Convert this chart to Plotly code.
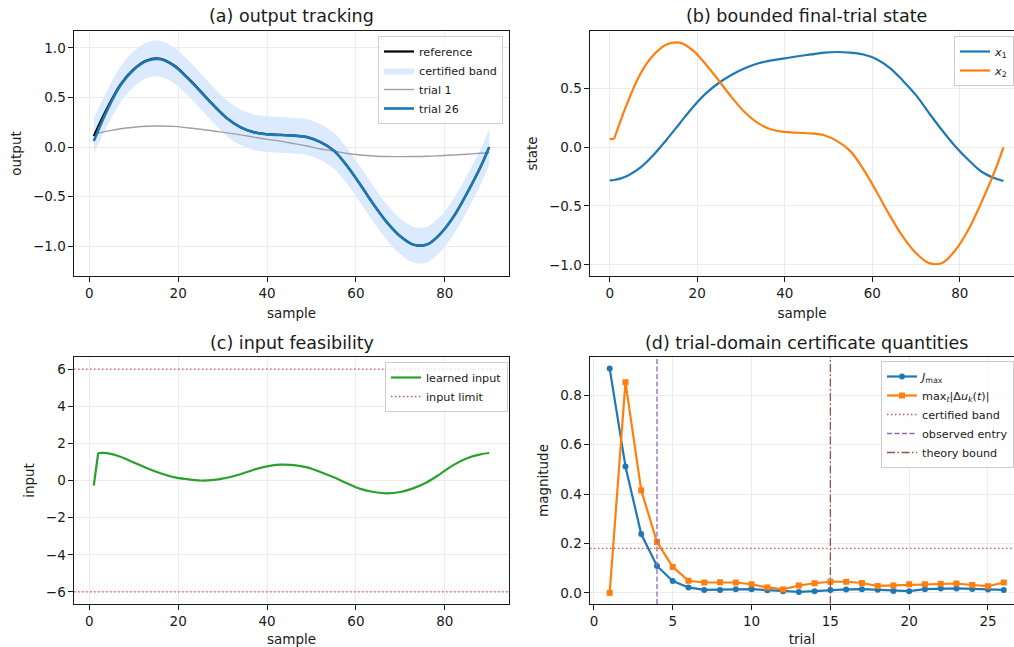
import plotly.graph_objects as go

# ---------------- data ----------------
SAMPLE = [1, 4, 7, 10, 13, 16, 19, 22, 25, 28, 31, 34, 37, 40, 43, 46, 49, 52, 55, 58,
          61, 64, 67, 70, 73, 76, 79, 82, 85, 88, 90]
REFERENCE = [0.11, 0.39, 0.63, 0.785, 0.875, 0.89, 0.825, 0.705, 0.565, 0.42, 0.29, 0.20,
             0.15, 0.13, 0.122, 0.115, 0.10, 0.05, -0.035, -0.19, -0.38, -0.58, -0.76,
             -0.90, -0.985, -0.983, -0.875, -0.70, -0.465, -0.205, 0.0]
TRIAL1 = [0.13, 0.16, 0.185, 0.20, 0.21, 0.212, 0.208, 0.195, 0.18, 0.162, 0.143, 0.123,
          0.10, 0.078, 0.06, 0.035, 0.01, -0.02, -0.04, -0.065, -0.08, -0.09, -0.095,
          -0.097, -0.096, -0.093, -0.087, -0.08, -0.072, -0.063, -0.058]
TRIAL26 = [0.06, 0.37, 0.62, 0.78, 0.87, 0.885, 0.82, 0.70, 0.56, 0.417, 0.29, 0.20,
           0.148, 0.128, 0.121, 0.115, 0.10, 0.05, -0.035, -0.19, -0.38, -0.58, -0.76,
           -0.90, -0.985, -0.983, -0.875, -0.70, -0.465, -0.205, 0.0]
BAND = 0.18  # certified band half-width

STATE_T = [0, 1, 4, 7, 10, 13, 16, 19, 22, 25, 28, 31, 34, 37, 40, 43, 46, 49, 52, 55,
           58, 61, 64, 67, 70, 73, 76, 79, 82, 85, 88, 90]
X1 = [-0.282, -0.28, -0.245, -0.175, -0.068, 0.062, 0.20, 0.338, 0.455, 0.545, 0.615,
      0.67, 0.71, 0.735, 0.752, 0.77, 0.785, 0.80, 0.806, 0.80, 0.785, 0.745, 0.672,
      0.563, 0.44, 0.287, 0.14, 0.005, -0.11, -0.21, -0.265, -0.288]
X2 = [0.068, 0.068, 0.37, 0.62, 0.78, 0.87, 0.885, 0.82, 0.70, 0.56, 0.417, 0.29, 0.20,
      0.148, 0.128, 0.121, 0.115, 0.10, 0.05, -0.035, -0.19, -0.38, -0.58, -0.76,
      -0.90, -0.985, -0.983, -0.875, -0.70, -0.465, -0.205, 0.0]

INPUT_T = [1, 2, 4, 7, 10, 13, 16, 19, 22, 25, 28, 31, 34, 37, 40, 43, 46, 49, 52, 55,
           58, 61, 64, 67, 70, 73, 76, 79, 82, 85, 88, 90]
INPUT = [-0.27, 1.48, 1.47, 1.28, 0.97, 0.66, 0.39, 0.18, 0.07, 0.0, 0.03, 0.15, 0.34,
         0.58, 0.76, 0.85, 0.83, 0.71, 0.46, 0.17, -0.15, -0.45, -0.62, -0.69, -0.62,
         -0.41, -0.09, 0.36, 0.84, 1.20, 1.41, 1.48]
U_LIMIT = 6

TRIALS = list(range(1, 27))
J_MAX = [0.908, 0.512, 0.238, 0.109, 0.048, 0.022, 0.012, 0.012, 0.015, 0.015, 0.011,
         0.007, 0.004, 0.007, 0.012, 0.014, 0.015, 0.013, 0.008, 0.007, 0.015, 0.018,
         0.018, 0.016, 0.014, 0.012]
DU_MAX = [0.0, 0.853, 0.415, 0.206, 0.105, 0.049, 0.042, 0.043, 0.042, 0.035, 0.022,
          0.014, 0.030, 0.039, 0.045, 0.045, 0.040, 0.028, 0.030, 0.035, 0.035, 0.037,
          0.038, 0.032, 0.027, 0.042]
OBSERVED_ENTRY = 4
THEORY_BOUND = 15

# ---------------- styling ----------------
BLUE, ORANGE, GREEN = "#1f77b4", "#ff7f0e", "#2ca02c"
RED, PURPLE, BROWN = "#d62728", "#9467bd", "#8c564b"
LIMIT_RED = "rgba(214,39,40,0.8)"
W, H = 1014, 647
FONT = "DejaVu Sans"
TICK = 13.5
LBL = 13.5
TTL = 17.5
LEG = 11.2
DOT = "1.5px,2.5px"
DASH = "5px,2.5px"
DASHDOT = "8px,2.5px,1.5px,2.5px"

fig = go.Figure()

upper = [r + BAND for r in REFERENCE]
lower = [r - BAND for r in REFERENCE]

# (a)
fig.add_trace(go.Scatter(x=SAMPLE, y=upper, mode="lines", line=dict(width=0, shape="spline"),
                         showlegend=False, hoverinfo="skip", xaxis="x", yaxis="y"))
fig.add_trace(go.Scatter(x=SAMPLE, y=lower, mode="lines", line=dict(width=0, shape="spline"),
                         fill="tonexty", fillcolor="#dbeafd", name="certified band",
                         legend="legend", legendrank=2, xaxis="x", yaxis="y"))
fig.add_trace(go.Scatter(x=SAMPLE, y=TRIAL1, mode="lines", name="trial 1",
                         line=dict(color="#a0a0a0", width=1.4, shape="spline"),
                         legend="legend", legendrank=3, xaxis="x", yaxis="y"))
fig.add_trace(go.Scatter(x=SAMPLE, y=REFERENCE, mode="lines", name="reference",
                         line=dict(color="black", width=2.2, shape="spline"),
                         legend="legend", legendrank=1, xaxis="x", yaxis="y"))
fig.add_trace(go.Scatter(x=SAMPLE, y=TRIAL26, mode="lines", name="trial 26",
                         line=dict(color=BLUE, width=2.6, shape="spline"),
                         legend="legend", legendrank=4, xaxis="x", yaxis="y"))

# (b)
fig.add_trace(go.Scatter(x=STATE_T, y=X1, mode="lines", name="<i>x</i><sub>1</sub>",
                         line=dict(color=BLUE, width=2.2, shape="spline"),
                         legend="legend2", xaxis="x2", yaxis="y2"))
fig.add_trace(go.Scatter(x=STATE_T[1:], y=X2[1:], mode="lines", name="<i>x</i><sub>2</sub>",
                         line=dict(color=ORANGE, width=2.2, shape="spline"),
                         legend="legend2", xaxis="x2", yaxis="y2"))
fig.add_trace(go.Scatter(x=STATE_T[:2], y=X2[:2], mode="lines", showlegend=False,
                         line=dict(color=ORANGE, width=2.2), xaxis="x2", yaxis="y2"))

# (c)
fig.add_trace(go.Scatter(x=INPUT_T[1:], y=INPUT[1:], mode="lines", name="learned input",
                         line=dict(color=GREEN, width=2.2, shape="spline"),
                         legend="legend3", xaxis="x3", yaxis="y3"))
fig.add_trace(go.Scatter(x=INPUT_T[:2], y=INPUT[:2], mode="lines", showlegend=False,
                         line=dict(color=GREEN, width=2.2), xaxis="x3", yaxis="y3"))
fig.add_trace(go.Scatter(x=[None], y=[None], mode="lines", name="input limit",
                         line=dict(color=LIMIT_RED, width=1.3, dash=DOT),
                         legend="legend3", xaxis="x3", yaxis="y3"))
for lim in (U_LIMIT, -U_LIMIT):
    fig.add_shape(type="line", xref="x3 domain", yref="y3", x0=0, x1=1, y0=lim, y1=lim,
                  line=dict(color=LIMIT_RED, width=1.3, dash=DOT))

# (d)
fig.add_trace(go.Scatter(x=TRIALS, y=J_MAX, mode="lines+markers",
                         name="<i>J</i><sub>max</sub>",
                         line=dict(color=BLUE, width=2.2),
                         marker=dict(symbol="circle", size=6, color=BLUE),
                         legend="legend4", xaxis="x4", yaxis="y4"))
fig.add_trace(go.Scatter(x=TRIALS, y=DU_MAX, mode="lines+markers",
                         name="max<sub><i>t</i></sub>|Δ<i>u</i><sub><i>k</i></sub>(<i>t</i>)|",
                         line=dict(color=ORANGE, width=2.2),
                         marker=dict(symbol="square", size=6, color=ORANGE),
                         legend="legend4", xaxis="x4", yaxis="y4"))
fig.add_trace(go.Scatter(x=[None], y=[None], mode="lines", name="certified band",
                         line=dict(color=LIMIT_RED, width=1.3, dash=DOT),
                         legend="legend4", xaxis="x4", yaxis="y4"))
fig.add_trace(go.Scatter(x=[None], y=[None], mode="lines", name="observed entry",
                         line=dict(color=PURPLE, width=1.3, dash=DASH),
                         legend="legend4", xaxis="x4", yaxis="y4"))
fig.add_trace(go.Scatter(x=[None], y=[None], mode="lines", name="theory bound",
                         line=dict(color=BROWN, width=1.3, dash=DASHDOT),
                         legend="legend4", xaxis="x4", yaxis="y4"))
fig.add_shape(type="line", xref="x4 domain", yref="y4", x0=0, x1=1, y0=BAND, y1=BAND,
              line=dict(color=LIMIT_RED, width=1.3, dash=DOT))
fig.add_shape(type="line", xref="x4", yref="y4 domain", x0=OBSERVED_ENTRY, x1=OBSERVED_ENTRY,
              y0=0, y1=1, line=dict(color=PURPLE, width=1.3, dash=DASH))
fig.add_shape(type="line", xref="x4", yref="y4 domain", x0=THEORY_BOUND, x1=THEORY_BOUND,
              y0=0, y1=1, line=dict(color=BROWN, width=1.3, dash=DASHDOT))


def px_x(a, b):
    return [a / W, min(b / W, 1.0)]


def px_y(top, bottom):
    return [1 - bottom / H, 1 - top / H]


def ax(domain, rng, dtick, title, mirror=True, fmt=None, anchor=None):
    d = dict(domain=domain, range=rng, dtick=dtick, tick0=0, showline=True,
             linecolor="#1a1a1a", linewidth=1.1, mirror=mirror, ticks="outside",
             ticklen=4.5, tickwidth=1.1, tickcolor="#1a1a1a", showgrid=True,
             gridcolor="#ebebeb", gridwidth=1, zeroline=False,
             tickfont=dict(size=TICK, color="#1a1a1a"),
             title=dict(text=title, font=dict(size=LBL, color="#1a1a1a"), standoff=8),
             anchor=anchor)
    if fmt:
        d["tickformat"] = fmt
    return d


LX = px_x(74, 509)
RX = px_x(590, 1014)
TY = px_y(31, 276)
BY = px_y(357, 604)

LEG_STYLE = dict(bgcolor="rgba(255,255,255,0.8)", bordercolor="#cccccc", borderwidth=1,
                 font=dict(size=LEG), itemwidth=30, traceorder="normal", tracegroupgap=0)

fig.update_layout(
    width=W, height=H, margin=dict(l=0, r=0, t=0, b=0),
    paper_bgcolor="white", plot_bgcolor="white",
    font=dict(family=FONT, color="#1a1a1a"),
    xaxis=ax(LX, [-3.45, 94.45], 20, "sample", anchor="y"),
    yaxis=ax(TY, [-1.30, 1.17], 0.5, "output", fmt=".1f", anchor="x"),
    xaxis2=ax(RX, [-4.5, 92.4], 20, "sample", anchor="y2"),
    yaxis2=ax(TY, [-1.094, 0.984], 0.5, "state", mirror=False, fmt=".1f", anchor="x2"),
    xaxis3=ax(LX, [-3.45, 94.45], 20, "sample", anchor="y3"),
    yaxis3=ax(BY, [-6.65, 6.65], 2, "input", anchor="x3"),
    xaxis4=ax(RX, [-0.25, 26.65], 5, "trial", anchor="y4"),
    yaxis4=ax(BY, [-0.045, 0.955], 0.2, "magnitude", mirror=False, fmt=".1f", anchor="x4"),
    legend=dict(x=503 / W, y=1 - 36 / H, xanchor="right", yanchor="top", **LEG_STYLE),
    legend2=dict(x=1.0, y=1 - 36 / H, xanchor="right", yanchor="top", **LEG_STYLE),
    legend3=dict(x=508 / W, y=1 - 362 / H, xanchor="right", yanchor="top", **LEG_STYLE),
    legend4=dict(x=1.0, y=1 - 361 / H, xanchor="right", yanchor="top", **LEG_STYLE),
)

titles = [("(a) output tracking", (74 + 509) / 2, 16),
          ("(b) bounded final-trial state", (590 + 1023) / 2, 16),
          ("(c) input feasibility", (74 + 509) / 2, 343),
          ("(d) trial-domain certificate quantities", (590 + 1023) / 2, 343)]
for text, cx, cy in titles:
    fig.add_annotation(text=text, x=cx / W, y=1 - cy / H, xref="paper", yref="paper",
                       xanchor="center", yanchor="middle", showarrow=False,
                       font=dict(size=TTL, color="#1a1a1a"))

fig.write_html("out.html")
